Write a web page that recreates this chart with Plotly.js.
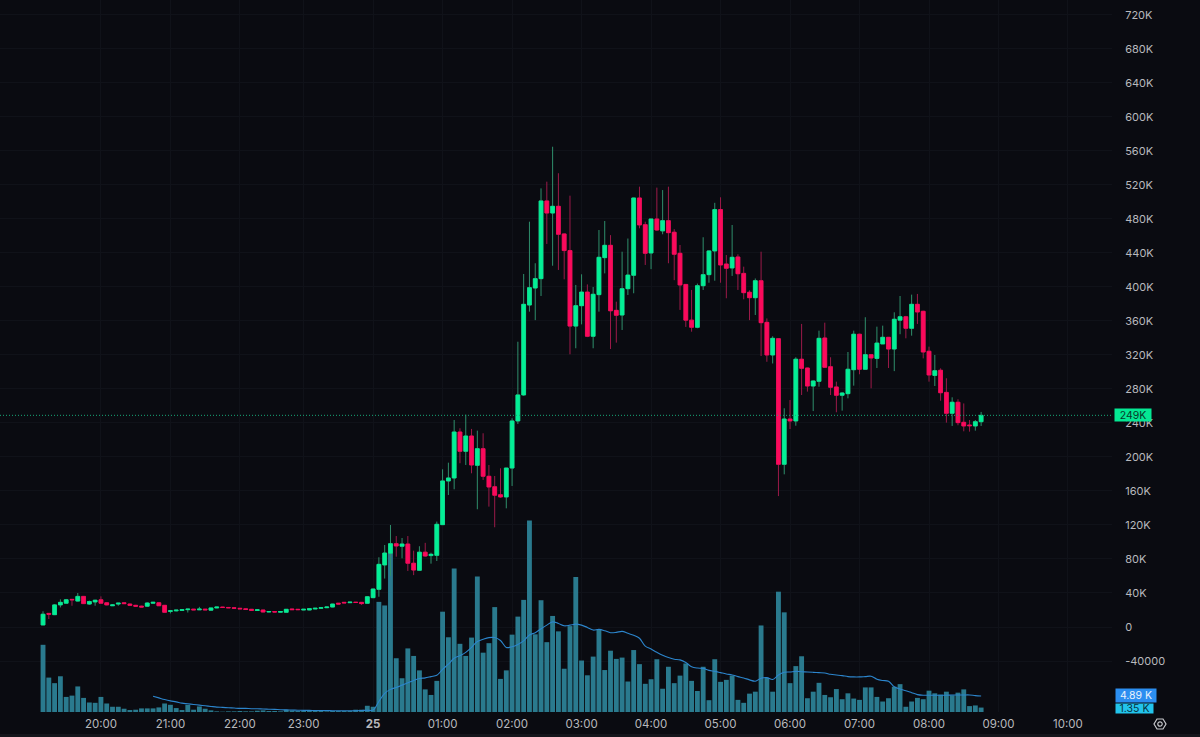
<!DOCTYPE html>
<html>
<head>
<meta charset="utf-8">
<script src="https://cdn.plot.ly/plotly-3.0.1.min.js"></script>
<style>html,body{margin:0;padding:0;background:#0a0b11;overflow:hidden}#c{width:1200px;height:737px}</style>
</head>
<body>
<div id="c"></div>
<script>
// Prices in thousands, one candle per 5 minutes (the session skips one bar before 23:00)
const open = [2.4,16,14.5,26,28,32.5,30.5,36,27,29.5,32,28.5,25,27,28.5,27,25.5,24.5,24.5,28,28.5,25.5,
18.4,19,19.5,20.4,21,20.2,21,19.8,22.4,23.4,23,22.6,22,21.4,20.8,19.4,20,17.6,18.2,17.4,17.3,21.2,20.8,20,20,21.2,22,22.7,23.5,28,29,28.6,29.2,29,
27.9,34.5,44.3,73,86.7,98,95,97.6,75,66.7,88,84,84.3,120.4,171.8,175.3,229.4,206.7,224.7,190.2,209.8,177.3,165,155.6,153,187,242.4,273,
378.8,398.8,409.8,501.2,487,494.9,462.4,442.8,354,378,394,342,391,434.5,449,372.5,367,398,413.8,504.7,473.3,440,480,466,478,464.4,439.6,403,361,352.6,401.5,414.5,442.4,491,427,422.4,435.3,416,393.8,387.4,407.4,358.4,320,
339.2,191.4,244.7,242.4,315,304.7,283.5,289,340,306.2,282.4,272.6,274.5,302.7,344.4,303.2,320.4,316,333,340.8,327,361,365,351.4,379.6,371.4,324.4,296,302,276,251.4,264.4,240.8,237.6,236.5,241.5];
const high = [18.5,16.2,27,32.5,33,33,40,36.5,31,32,36,29,27,28,29,27.5,26,25,29,29.5,29,25.5,
19.2,20,20.6,21.2,21.2,23.7,21.2,22.6,23.6,23.6,23.2,22.8,22.2,21.6,21,20.4,20.2,18.4,18.4,18.4,21,21.4,21,21,21.8,22.2,22.9,23.7,27.2,28.2,29.2,29.4,29.4,29.2,
36.5,45,82,96.5,120,107,104.7,107,89.8,95,99,87.4,124,185.5,193.3,243.5,233.8,249.8,233,231,227.9,190.6,177.6,186.7,187,245.5,335.6,415.3,
476.8,427.9,516,523.9,565,533.8,463,507.4,402.4,414.9,403,400,467,477.6,461,382.7,441.5,457,505,518,476.8,480,516.9,514,518,468,449.4,403,396.5,404,458.5,443,499,505.5,437.6,472.9,438.4,423.9,396,410,441.5,363,342,
339.6,257.3,267,317.3,356.5,305,290,348.6,358,317.3,288.6,276,323.5,348.6,345,364.4,321,353.3,354.5,341,370.2,389.4,366,391,391.8,372,329.8,320,304.3,292.6,270.2,267.9,263,243.5,243.5,253];
const low = [2.2,9.4,14,23,27.6,25,30,27,26,25,28,25.5,25,25,27,25.5,24.5,23.5,24,27.5,25,17,
16,18.4,19.4,17,20,20,20,19.6,22.2,22.8,22.4,21.8,21.2,20.4,19.4,19.2,17.4,17.4,17.4,17.2,17.1,20.2,20.2,19.8,19.8,21,21.8,22.5,23.3,26.8,28.2,28.4,28.6,26,
27.5,34,35.6,57,60,82.7,80.8,65.9,61,66,82.7,74.5,77.6,120,155.3,162,192.6,190.6,180.8,138.5,173,141.6,117.3,152,139.6,165.9,238.8,272,
371,361,389.4,450.6,425,420,409,320.8,327.9,356,341,327.9,371,416,327,334.5,349.4,390.6,392.6,469,425.9,421,466,462,427.9,408,373,353,347.4,351.4,396.5,405,407.4,405,386.7,413,396.5,385.5,361,367,318.8,312,310,
154,179.6,232.9,236.8,272.9,276.9,254,282.7,305,272.9,252.6,254.5,269,283.9,297.3,303,280.8,304.7,333,304.7,301,344.4,339.6,342.7,356.5,316,288.6,283.5,266.2,240.4,236.5,237.3,230.2,229.8,231,236.5];
const close = [15,15,26,29,32,32,36,27.5,30,31.5,28,26,26,28,27.5,25.5,24.5,23.5,28.2,29,25,17.3,
19,19.8,20.4,21,20.2,21,20.2,22.4,23.4,23,22.6,22,21.4,20.6,19.6,20.2,17.6,18.2,17.6,18.2,20.8,20.4,20.4,20.8,21.6,22,22.7,23.5,27,27,28.4,29.2,28.8,27.5,
35.6,44.7,73.7,87,98,95.3,97.6,75,67,88,83.5,85.5,120.8,171.8,175.3,229.4,206.7,224.7,190.6,209.8,177.3,164.7,155,153,187,242.4,273,379.6,
399.2,409.8,501.2,487,494.9,462,442.8,354,378,394,342,391.4,434.9,449,372,366.7,398,414,504.7,473,439.6,480,467,478,463.9,438.5,402.4,361,352.6,401.5,414.5,442.4,491,425.9,422,434.9,415.6,393.3,387.4,407.4,358,320,339.6,
191.4,244.7,242.4,315,304.3,283.5,289.4,339.6,305.5,282,272.6,275.3,303.2,344.4,303.2,320.4,316.5,334,340.8,327,362,365,351.4,379.6,370.6,323.5,296.5,301.5,275.6,251.4,264.4,240.4,236.5,236.8,241.5,249];
// Volume in thousands
const volume = [20.5,10.5,8.8,10.9,4.6,5,7.8,4.3,2.9,2.8,4.6,2.6,1.6,1.6,1,.6,.7,1.1,1.1,1.1,1.4,2.6,2.2,1.2,.6,2.2,.7,1.7,1,.5,.2,.1,.2,.2,.3,.2,.2,.4,.5,.3,.3,.2,.7,.5,.3,.3,.3,.3,.3,.2,.3,.3,.3,.3,.7,.7,1.9,
1.6,33.6,32.5,48.4,16.4,10.3,19.4,17.1,12.7,6.9,5.2,9.5,30.6,22.8,43.8,20.8,17.1,22.7,41.3,18.1,21,32,10.1,12.7,23.6,29.1,34.2,58.4,23.7,34.1,21.3,29.3,24.6,13.2,26.2,41.2,15.7,11.2,
16.9,25.2,12.8,18.7,16.2,16.6,9.3,18.9,14.6,8.6,10,16.1,7.1,13.8,8.8,11.1,14.8,9.5,6.4,13.8,3.6,16.1,9.2,9.8,11.1,3.7,2.8,5.6,6.2,26.4,10.4,6.2,36.7,30.4,8.8,14,17,4.2,
6.2,8.9,5.2,4.5,7,3.9,5.7,4.1,3.7,7.5,7.5,4.6,3.2,4.2,7.7,8.5,1.6,3.2,4.3,3.9,6.5,5.7,5.3,6.2,5.1,5.9,6.9,1.8,2,1.35];
// Volume moving average in thousands (no value for the first 19 bars)
const volumeAvg = [null,null,null,null,null,null,null,null,null,null,null,null,null,null,null,null,null,null,null,
4.8,4.3,3.8,3.4,3.1,2.7,2.5,2.3,2.1,1.9,1.7,1.5,1.4,1.3,1.2,1.1,1.1,1.0,1.0,.9,.85,.8,.7,.65,.6,.55,.5,.5,.45,.45,.45,.4,.4,.4,.4,.4,.45,.55,.6,
3.2,5.7,6.9,7.5,8.2,8.9,9.6,10.2,10.4,10.8,11.2,13,14.6,16.4,17.2,18.2,19.7,21.5,22.2,22.7,22.7,21.8,19.7,19.9,20.6,21.7,23.5,24.2,25.4,26.5,27.5,27,26.3,
26.5,26.8,26.5,25.8,25,25.2,24.8,24.2,24.3,24.6,24,23.4,22.5,20.1,19.2,18.2,17.3,16.6,16.1,15.9,15.1,13.8,13.4,13.3,12.7,12.4,12,11.6,11.3,10.8,10.4,9.8,9.4,10.3,10.5,9.9,11.3,12.1,12.2,12.4,
12.3,12.2,12.1,12,11.9,11.5,11.3,11.1,10.8,10.7,10.7,10.8,10.9,10,9.6,9.4,7.7,7,6.5,5.9,5.3,5.1,5.1,5.1,5.1,5.1,5.2,5.2,5.2,5.2,5,4.89];
// Axis ticks
const timeTickBars = [10,22,34,45,57,69,81,93,105,117,129,141,153,165,177];
const timeTickLabels = ['20:00','21:00','22:00','23:00','<b>25</b>','01:00','02:00','03:00','04:00','05:00','06:00','07:00','08:00','09:00','10:00'];
const priceTicks = [720,680,640,600,560,520,480,440,400,360,320,280,240,200,160,120,80,40,0,-40];
const priceTickLabels = ['720K','680K','640K','600K','560K','520K','480K','440K','400K','360K','320K','280K','240K','200K','160K','120K','80K','40K','0','-40000'];
const lastPrice = 249;
const lastPriceLabel = '249K';
const avgLabel = '4.89 K';
const volLabel = '1.35 K';

const bars = close.map((_, i) => i);
const bodyTop = open.map((o, i) => Math.max(o, close[i]));
const bodyBottom = open.map((o, i) => Math.min(o, close[i]));

const GREEN = '#03ef96', RED = '#fb0a5c', GREEN_W = '#2f8f6c', RED_W = '#9c1a49';
const TEXT = '#b8b9bd', GRID = '#101219', BG = '#0a0b11';
const PW = 1112, PH = 712;

const traces = [
  {type:'bar', x:bars, y:volume, yaxis:'y', marker:{color:'#2a7a8e', line:{width:0}}, hoverinfo:'skip', showlegend:false},
  {type:'scatter', mode:'lines', x:bars, y:volumeAvg, yaxis:'y', line:{color:'#2c85cc', width:1.1, shape:'spline'}, hoverinfo:'skip', showlegend:false, connectgaps:false},
  {type:'candlestick', x:bars, open:open, high:high, low:low, close:close, yaxis:'y2',
    increasing:{line:{color:GREEN_W, width:1}, fillcolor:GREEN_W},
    decreasing:{line:{color:RED_W, width:1}, fillcolor:RED_W}, hoverinfo:'skip', showlegend:false},
  {type:'candlestick', x:bars, open:open.map((o,i)=>o<=close[i]?bodyBottom[i]:bodyTop[i]), high:bodyTop, low:bodyBottom,
    close:open.map((o,i)=>o<=close[i]?bodyTop[i]:bodyBottom[i]), yaxis:'y2',
    increasing:{line:{color:GREEN, width:0.6}, fillcolor:GREEN},
    decreasing:{line:{color:RED, width:0.6}, fillcolor:RED}, hoverinfo:'skip', showlegend:false}
];

const layout = {
  width:1200, height:737,
  margin:{l:0, r:1200-PW, t:0, b:737-PH, pad:0},
  paper_bgcolor:BG, plot_bgcolor:BG,
  font:{family:'Inter, sans-serif', size:11, color:TEXT},
  showlegend:false, bargap:0.16, boxmode:'overlay', boxgap:0.34, boxgroupgap:0,
  xaxis:{type:'linear', range:[-7.43,184.6], tickmode:'array', tickvals:timeTickBars, ticktext:timeTickLabels,
    showgrid:true, gridcolor:GRID, gridwidth:1, zeroline:false, showline:false, ticks:'outside', ticklen:1, tickcolor:'rgba(0,0,0,0)',
    rangeslider:{visible:false}, fixedrange:true, tickfont:{family:'Inter, sans-serif', size:11.5, color:TEXT}},
  yaxis:{range:[0,217.2], showgrid:false, zeroline:false, showticklabels:false, ticks:'', showline:false, fixedrange:true},
  yaxis2:{overlaying:'y', side:'right', range:[-100,737.6], tickmode:'array', tickvals:priceTicks, ticktext:priceTickLabels,
    showgrid:true, gridcolor:GRID, gridwidth:1, zeroline:false, showline:false, ticks:'outside', ticklen:10, tickcolor:'rgba(0,0,0,0)',
    fixedrange:true, tickfont:{family:'Inter, sans-serif', size:11, color:TEXT}},
  shapes:[
    {type:'line', xref:'paper', yref:'y2', x0:0, x1:1, y0:lastPrice, y1:lastPrice, line:{color:'#17a877', width:1, dash:'1px,2px'}},
    {type:'rect', xref:'paper', yref:'paper', x0:0, x1:1200/PW, y0:-22/PH, y1:-25/PH, line:{width:0}, fillcolor:'#14151b'},
    {type:'path', xref:'paper', yref:'paper', xsizemode:'pixel', ysizemode:'pixel', xanchor:1160/PW, yanchor:-12/PH,
      path:'M-6,0 L-3,-5 L3,-5 L6,0 L3,5 L-3,5 Z', line:{color:'#c8c9cd', width:1.2}},
    {type:'circle', xref:'paper', yref:'paper', xsizemode:'pixel', ysizemode:'pixel', xanchor:1160/PW, yanchor:-12/PH,
      x0:-2.2, x1:2.2, y0:-2.2, y1:2.2, line:{color:'#c8c9cd', width:1.2}}
  ],
  annotations:[
    {xref:'paper', yref:'y2', x:1133/PW, y:lastPrice, xanchor:'center', yanchor:'middle', text:lastPriceLabel, showarrow:false, width:36, height:12, borderpad:0,
      bgcolor:'#04e893', font:{family:'Inter, sans-serif', size:10.5, color:'#08382a'}, align:'center', valign:'middle'},
    {xref:'paper', yref:'y', x:1134/PW, y:volume[volume.length-1], xanchor:'center', yanchor:'middle', yshift:-1, text:volLabel, showarrow:false, width:37, height:9, borderpad:0,
      bgcolor:'#22c4ec', font:{family:'Inter, sans-serif', size:10.5, color:'#08323f'}, align:'center', valign:'middle'},
    {xref:'paper', yref:'y', x:1136/PW, y:volumeAvg[volumeAvg.length-1], xanchor:'center', yanchor:'middle', text:avgLabel, showarrow:false, width:40, height:13, borderpad:0,
      bgcolor:'#2b8ef0', font:{family:'Inter, sans-serif', size:10.5, color:'#e8f2fc'}, align:'center', valign:'middle'}
  ]
};
Plotly.newPlot('c', traces, layout, {displayModeBar:false, staticPlot:true});
</script>
</body>
</html>
